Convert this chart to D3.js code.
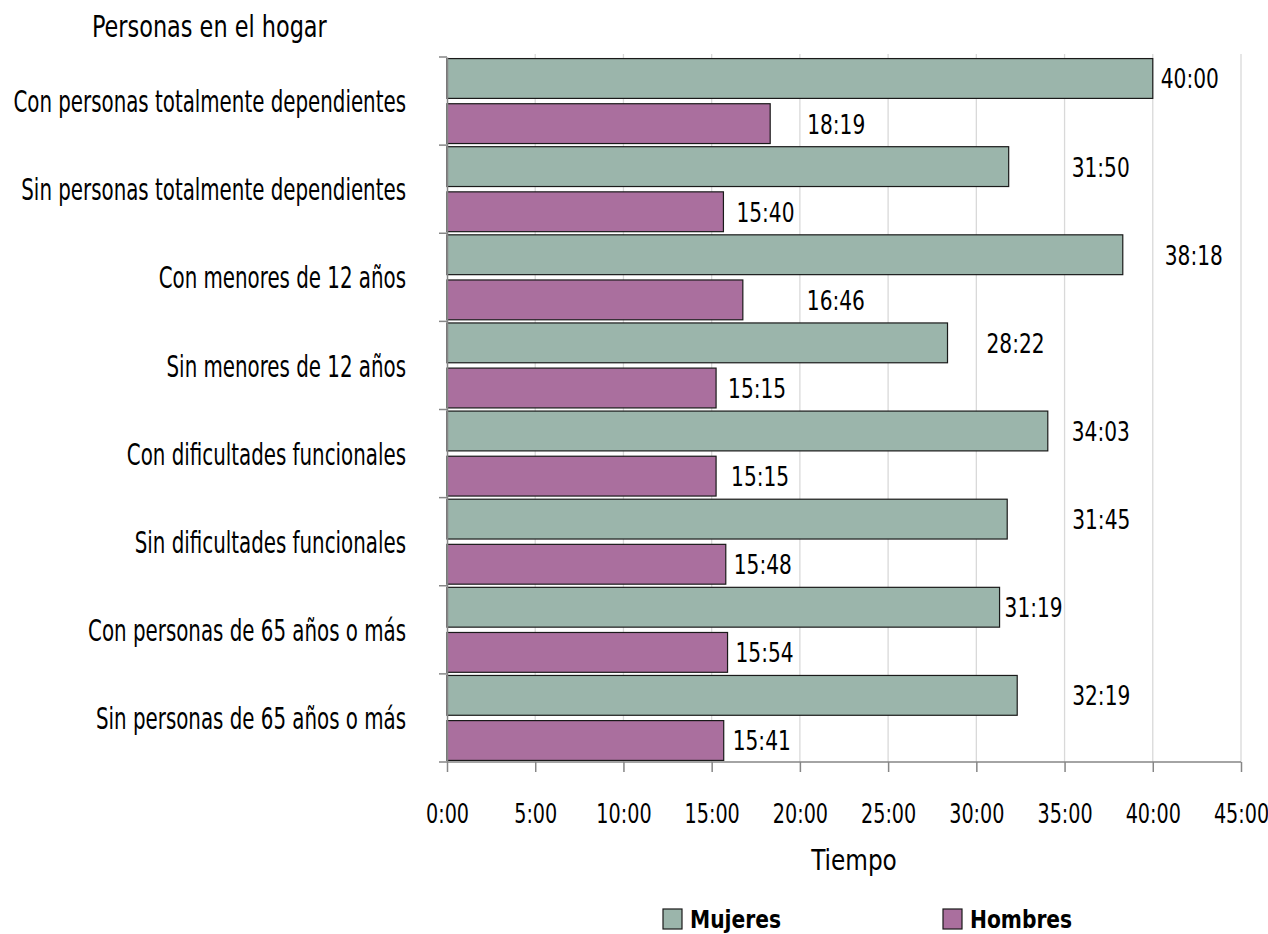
<!DOCTYPE html>
<html>
<head>
<meta charset="utf-8">
<script src="https://cdn.jsdelivr.net/npm/d3@7"></script>
<style>
  html, body { margin: 0; padding: 0; background: #fff; }
  svg text { font-family: "DejaVu Sans Condensed", "DejaVu Sans", sans-serif; fill: #000; }
</style>
</head>
<body>
<svg id="chart" width="1268" height="934"></svg>
<script>
// ---- data ----
const categories = [
  "Con personas totalmente dependientes",
  "Sin personas totalmente dependientes",
  "Con menores de 12 años",
  "Sin menores de 12 años",
  "Con dificultades funcionales",
  "Sin dificultades funcionales",
  "Con personas de 65 años o más",
  "Sin personas de 65 años o más"
];
const series = ["Mujeres", "Hombres"];
// values as "hours:minutes"
const mujeres = ["40:00", "31:50", "38:18", "28:22", "34:03", "31:45", "31:19", "32:19"];
const hombres = ["18:19", "15:40", "16:46", "15:15", "15:15", "15:48", "15:54", "15:41"];
const xTicks = [0, 5, 10, 15, 20, 25, 30, 35, 40, 45];
const xTickLabels = ["0:00", "5:00", "10:00", "15:00", "20:00", "25:00", "30:00", "35:00", "40:00", "45:00"];

// ---- layout (label offsets from bar end, px) ----
const labelDxM = [8, 63, 42, 39, 24, 65, 5, 55];
const labelDxH = [37, 13, 64, 12, 15, 8, 8, 9];
const colors = { Mujeres: "#9bb5ab", Hombres: "#aa6f9e" };

const toHours = s => { const [h, m] = s.split(":").map(Number); return h + m / 60; };

// horizontally condense a text selection (keeps its anchor x)
function squash(sel, sx) {
  sel.each(function () {
    const t = d3.select(this);
    const xv = +t.attr("x") || 0;
    t.attr("x", xv / sx).attr("transform", `scale(${sx},1)`);
  });
}

const svg = d3.select("#chart");
const pLeft = 447, pRight = 1241, pTop = 57, pBottom = 762;

const x = d3.scaleLinear().domain([0, 45]).range([pLeft, pRight]);
const y = d3.scaleBand().domain(categories).range([pTop, pBottom]).padding(0);
const ySub = d3.scaleBand().domain(series).range([0, y.bandwidth()]).paddingInner(0.118).paddingOuter(0.035);

// gridlines
svg.append("g").selectAll("line").data(xTicks.slice(1)).join("line")
  .attr("x1", d => x(d)).attr("x2", d => x(d))
  .attr("y1", pTop - 3).attr("y2", pBottom)
  .attr("stroke", "#d9d9d9").attr("stroke-width", 1.3);

// bars
const rows = categories.map((c, i) => ({
  cat: c, i,
  vals: [
    { s: "Mujeres", v: toHours(mujeres[i]), label: mujeres[i], dx: labelDxM[i] },
    { s: "Hombres", v: toHours(hombres[i]), label: hombres[i], dx: labelDxH[i] }
  ]
}));

const g = svg.append("g");
const grp = g.selectAll("g.cat").data(rows).join("g")
  .attr("transform", d => `translate(0,${y(d.cat)})`);

grp.selectAll("rect").data(d => d.vals).join("rect")
  .attr("x", x(0))
  .attr("y", d => ySub(d.s))
  .attr("width", d => x(d.v) - x(0))
  .attr("height", ySub.bandwidth())
  .attr("fill", d => colors[d.s])
  .attr("stroke", "#1a1a1a").attr("stroke-width", 1.2);

grp.selectAll("text.val").data(d => d.vals).join("text")
  .attr("class", "val")
  .attr("x", d => x(d.v) + d.dx)
  .attr("y", d => ySub(d.s) + ySub.bandwidth() / 2)
  .attr("dy", "0.37em")
  .attr("font-size", 27)
  .text(d => d.label)
  .call(squash, 0.83);

// left axis
const yAxis = d3.axisLeft(y).tickSize(0).tickFormat("");
const ya = svg.append("g").attr("transform", `translate(${pLeft},0)`).call(yAxis);
ya.select(".domain").attr("stroke", "#868686").attr("stroke-width", 1.5);
// left tick marks at band boundaries
svg.append("g").selectAll("line").data(categories.map(c => y(c)).concat([pBottom])).join("line")
  .attr("x1", pLeft - 8).attr("x2", pLeft)
  .attr("y1", d => d).attr("y2", d => d)
  .attr("stroke", "#868686").attr("stroke-width", 1.5);

// category labels
svg.append("g").selectAll("text").data(categories).join("text")
  .attr("x", 406)
  .attr("y", d => y(d) + y.bandwidth() / 2)
  .attr("dy", "0.37em")
  .attr("text-anchor", "end")
  .attr("font-size", 30)
  .text(d => d)
  .call(squash, 0.735);

// bottom axis
const xAxis = d3.axisBottom(x).tickValues(xTicks).tickSize(10)
  .tickFormat((d, i) => xTickLabels[i]);
const xa = svg.append("g").attr("transform", `translate(0,${pBottom})`).call(xAxis);
xa.select(".domain").attr("stroke", "#868686").attr("stroke-width", 1.5).attr("d", `M${pLeft},0H${pRight}`);
xa.selectAll(".tick line").attr("stroke", "#868686").attr("stroke-width", 1.5);
xa.selectAll(".tick text").attr("font-size", 26).attr("y", 61).attr("dy", 0)
  .attr("font-family", null).attr("fill", "#000")
  .call(squash, 0.82);

// axis title
svg.append("text").attr("x", 854).attr("y", 870).attr("text-anchor", "middle")
  .attr("font-size", 29).text("Tiempo").call(squash, 0.89);

// chart title
svg.append("text").attr("x", 92).attr("y", 37).attr("font-size", 30)
  .text("Personas en el hogar").call(squash, 0.83);

// legend
const legendX = [663, 943];
const lg = svg.append("g").selectAll("g").data(series).join("g")
  .attr("transform", (d, i) => `translate(${legendX[i]},909)`);
lg.append("rect").attr("width", 19).attr("height", 20)
  .attr("fill", d => colors[d]).attr("stroke", "#1a1a1a").attr("stroke-width", 1.2);
lg.append("text").attr("x", 27).attr("y", 19).attr("font-size", 25).attr("font-weight", "bold")
  .text(d => d).call(squash, 0.9);
</script>
</body>
</html>
